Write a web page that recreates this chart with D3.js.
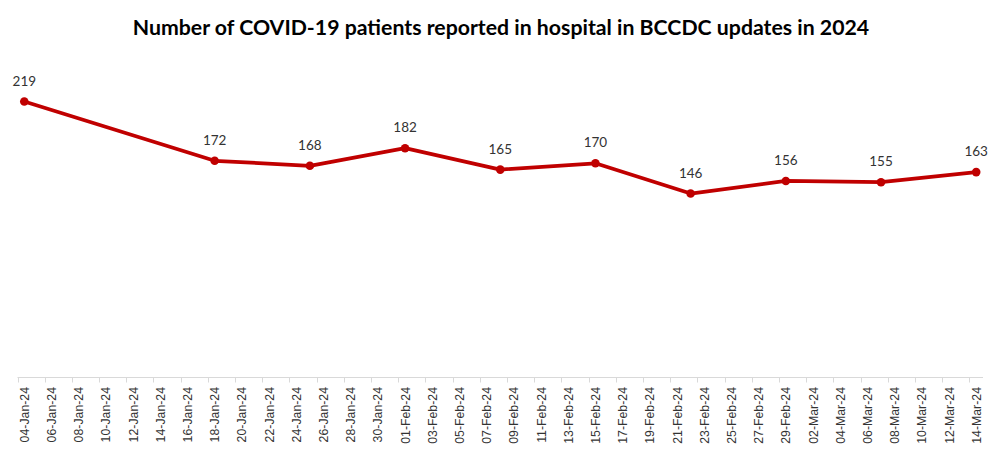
<!DOCTYPE html>
<html><head><meta charset="utf-8">
<script src="https://cdn.jsdelivr.net/npm/d3@7"></script>
<style>body{margin:0;background:#fff}svg{display:block}</style>
</head><body>
<svg id="c" width="1002" height="464"></svg>
<script>
const titleText = "Number of COVID-19 patients reported in hospital in BCCDC updates in 2024";
const dates = ["2024-01-04","2024-01-18","2024-01-25","2024-02-01","2024-02-08","2024-02-15","2024-02-22","2024-02-29","2024-03-07","2024-03-14"];
const patients = [219,172,168,182,165,170,146,156,155,163];
const axisStart = "2024-01-04", axisEnd = "2024-03-14";
const yDomain = [0, 250];

const parse = d3.utcParse("%Y-%m-%d");
const fmt = d3.utcFormat("%d-%b-%y");
const DAY = 864e5;
const svg = d3.select("#c");
const s0 = parse(axisStart), s1 = parse(axisEnd);
const x = d3.scaleUtc().domain([new Date(+s0 - DAY/2), new Date(+s1 + DAY/2)]).range([17.5, 983]);
const y = d3.scaleLinear().domain(yDomain).range([377.5, 62.5]);

// title
const t = svg.append("text").attr("x", 501).attr("y", 35).attr("text-anchor","middle")
  .style("font-family","Lato, 'Open Sans', sans-serif").style("font-weight","bold").style("font-size","19px")
  .attr("fill","#000").text(titleText);
const tw = t.node().getComputedTextLength();
t.style("font-size", (19*737/tw).toFixed(2)+"px");

// axis
const tickDates = d3.utcDay.range(s0, new Date(+s1 + 1), 2);
const g = svg.append("g").attr("transform","translate(0,377.5)");
g.append("line").attr("x1", x.range()[0]).attr("x2", x.range()[1]).attr("stroke","#d9d9d9").attr("stroke-width",1);
g.selectAll("line.tk").data(tickDates).join("line").attr("class","tk")
  .attr("x1", d=>Math.round(x(new Date(+d - DAY/2)))+0.5).attr("x2", d=>Math.round(x(new Date(+d - DAY/2)))+0.5)
  .attr("y1",0).attr("y2",5).attr("stroke","#d9d9d9");
g.selectAll("text").data(tickDates).join("text")
  .attr("transform", d=>`translate(${x(d)+4.5},9.5) rotate(-90)`)
  .attr("text-anchor","end")
  .style("font-family","'Liberation Sans', Arial, sans-serif").style("font-size","12.3px")
  .attr("fill","#333").text(d=>fmt(d));

// line
const data = dates.map((d,i)=>({date: parse(d), v: patients[i]}));
svg.append("path").datum(data)
  .attr("d", d3.line().x(d=>x(d.date)).y(d=>y(d.v)))
  .attr("fill","none").attr("stroke","#C00000").attr("stroke-width",3.8).attr("stroke-linejoin","round");
svg.selectAll("circle").data(data).join("circle")
  .attr("cx", d=>x(d.date)).attr("cy", d=>y(d.v)).attr("r",4.3).attr("fill","#C00000");
svg.selectAll("text.lbl").data(data).join("text").attr("class","lbl")
  .attr("x", d=>x(d.date)).attr("y", d=>y(d.v)-16).attr("text-anchor","middle")
  .style("font-family","Lato, 'Open Sans', sans-serif").style("font-size","13.5px")
  .attr("fill","#333").text(d=>d.v);
</script>
</body></html>
